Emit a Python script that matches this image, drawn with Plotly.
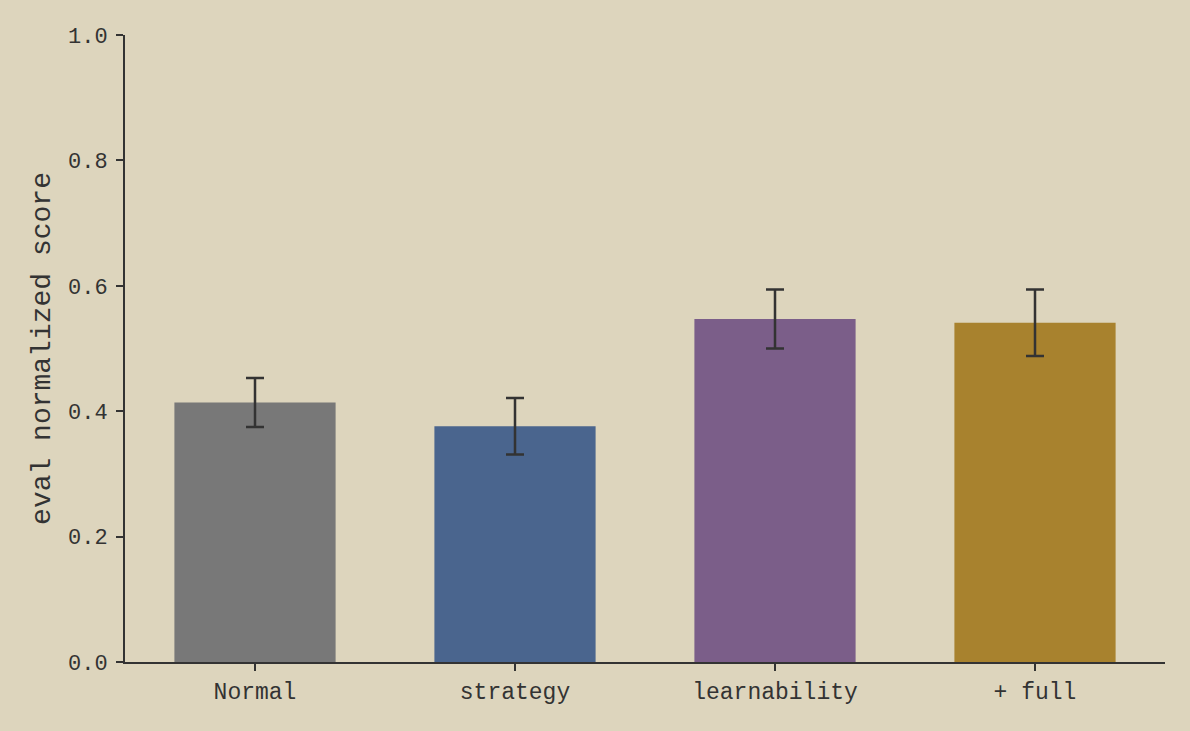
import plotly.graph_objects as go

# values
categories = ["Normal", "strategy", "learnability", "+ full"]
scores = [0.414, 0.376, 0.547, 0.541]
errors = [0.039, 0.045, 0.047, 0.053]
bar_colors = ["#787878", "#4a658e", "#7b5e89", "#a8822e"]
y_ticks = [0.0, 0.2, 0.4, 0.6, 0.8, 1.0]

bg = "#ddd5bd"
ink = "#333333"
mono = "Courier New, Liberation Mono, monospace"

fig = go.Figure()
fig.add_trace(go.Bar(
    x=categories,
    y=scores,
    marker=dict(color=bar_colors, line=dict(width=0)),
    error_y=dict(type="data", array=errors, color=ink, thickness=2.5, width=9),
    width=0.62,
))

fig.update_layout(
    width=1190, height=731,
    paper_bgcolor=bg, plot_bgcolor=bg,
    margin=dict(l=125, r=25, t=35, b=69),
    font=dict(family=mono, color=ink, size=23),
    showlegend=False,
    xaxis=dict(
        showline=True, linecolor=ink, linewidth=2,
        ticks="outside", ticklen=7, tickwidth=2, tickcolor=ink,
        showgrid=False, range=[-0.5, 3.5],
        tickfont=dict(size=23),
    ),
    yaxis=dict(
        title=dict(text="eval normalized score", font=dict(size=28), standoff=9),
        range=[0, 1.0],
        tickvals=y_ticks,
        tickformat=".1f",
        showline=True, linecolor=ink, linewidth=2,
        ticks="outside", ticklen=7, tickwidth=2, tickcolor=ink,
        showgrid=False, zeroline=False,
        tickfont=dict(size=22),
        ticklabelstandoff=4,
    ),
)

# page has a default body margin; drop it so the figure fills the window
fig.write_html("out.html", config={"displayModeBar": False},
               post_script="document.body.style.margin='0';document.body.style.overflow='hidden';")
